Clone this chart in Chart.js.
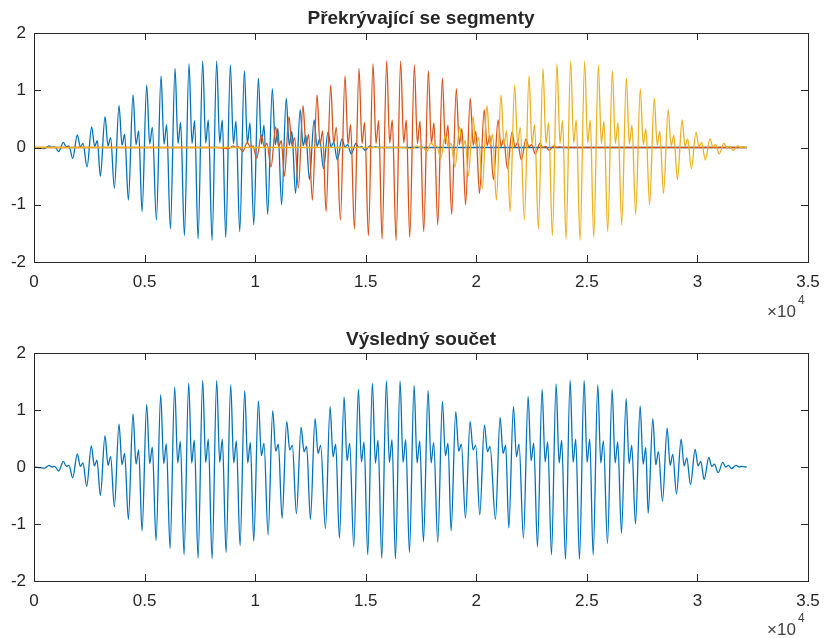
<!DOCTYPE html>
<html>
<head>
<meta charset="utf-8">
<script src="https://cdn.jsdelivr.net/npm/chart.js@4.4.1/dist/chart.umd.min.js"></script>
<style>
  body { margin: 0; background: #fff; width: 824px; height: 638px; position: relative; overflow: hidden;
         font-family: "Liberation Sans", Arial, Helvetica, sans-serif; color: #262626; }
  canvas { position: absolute; left: 0; }
  #topChart { top: 0; }
  #sumChart { top: 320px; }
  .title { position: absolute; left: 34px; width: 774px; text-align: center; font-weight: bold;
           font-size: 19px; line-height: 22px; white-space: nowrap; }
  .expo { position: absolute; font-size: 17px; line-height: 17px; white-space: nowrap; color: #404040; }
  .expo.sup { font-size: 12px; line-height: 12px; }
</style>
</head>
<body>
<canvas id="topChart" width="824" height="320"></canvas>
<canvas id="sumChart" width="824" height="318"></canvas>
<div class="title" style="top:7px">Překrývající se segmenty</div>
<div class="title" style="top:328px">Výsledný součet</div>
<div class="expo" style="left:767px;top:303px">×10</div>
<div class="expo sup" style="left:798px;top:294px">4</div>
<div class="expo" style="left:767px;top:621px">×10</div>
<div class="expo sup" style="left:798px;top:612px">4</div>
<script>
// axis ticks (x in units of 10^4 samples)
const xTicks = [0, 0.5, 1, 1.5, 2, 2.5, 3, 3.5];
const yTicks = [-2, -1, 0, 1, 2];
const signalEnd = 32230;

// the three segments are copies of one windowed block, started at these samples
const segmentStart = [0, 8320, 16640];
const segmentLength = 15590;
const segmentColors = ["#0072BD", "#D95319", "#EDB120"];

// where the trough / dip / shoulder sit relative to each tall peak (samples)
const troughLead = 210;
const dipLag = 135;
const shoulderLag = 255;

// one segment: per oscillation cycle
const segPeakX = [680, 1327, 1960, 2608, 3211, 3844, 4478, 5096, 5744, 6377, 7010, 7628,
  8261, 8880, 9513, 10146, 10776, 11406, 12036, 12666, 13296, 13926, 14556, 15186];
const segPeak = [0.03, 0.09, 0.22, 0.36, 0.54, 0.73, 0.92, 1.09, 1.25, 1.38, 1.46, 1.51,
  1.51, 1.44, 1.34, 1.21, 1.03, 0.86, 0.66, 0.48, 0.27, 0.15, 0.07, 0.03];
const segTrough = [-0.02, -0.07, -0.19, -0.34, -0.50, -0.71, -0.92, -1.12, -1.27, -1.42, -1.54, -1.60,
  -1.62, -1.57, -1.47, -1.35, -1.17, -1.00, -0.80, -0.56, -0.37, -0.22, -0.11, -0.05];
const segDip = [0, 0.01, 0.01, 0.02, 0.03, 0.04, 0.05, 0.06, 0.06, 0.07, 0.07, 0.08,
  0.08, 0.07, 0.07, 0.06, 0.05, 0.04, 0.03, 0.02, 0.01, 0.01, 0, 0];
const segShoulder = [0.01, 0.03, 0.07, 0.12, 0.17, 0.23, 0.29, 0.35, 0.40, 0.44, 0.47, 0.48,
  0.48, 0.46, 0.43, 0.39, 0.33, 0.28, 0.21, 0.15, 0.09, 0.05, 0.02, 0.01];

// resulting sum (bottom plot): per oscillation cycle
const sumPeakX = [680, 1327, 1960, 2593, 3211, 3844, 4478, 5096, 5729, 6362, 6995, 7628, 8262,
  8895, 9528, 10146, 10795, 11428, 12076, 12709, 13388, 14021, 14669, 15302, 15935, 16554,
  17187, 17820, 18468, 19071, 19720, 20368, 21076, 21680, 22343, 22976, 23609, 24243, 24876,
  25494, 26142, 26775, 27409, 27982, 28630, 29263, 29896, 30514, 31147, 31750];
const sumPeak = [0.03, 0.10, 0.23, 0.37, 0.55, 0.75, 0.93, 1.10, 1.27, 1.40, 1.47, 1.52, 1.52,
  1.44, 1.34, 1.16, 0.99, 0.80, 0.70, 0.85, 1.06, 1.23, 1.36, 1.47, 1.51, 1.51,
  1.43, 1.34, 1.15, 0.97, 0.80, 0.74, 0.87, 1.06, 1.24, 1.36, 1.46, 1.52, 1.52,
  1.44, 1.36, 1.20, 1.07, 0.85, 0.68, 0.49, 0.31, 0.17, 0.08, 0.03];
const sumTrough = [-0.02, -0.07, -0.19, -0.34, -0.50, -0.70, -0.92, -1.12, -1.29, -1.43, -1.54, -1.60, -1.61,
  -1.50, -1.38, -1.30, -1.19, -0.90, -0.82, -0.92, -1.08, -1.25, -1.40, -1.54, -1.60, -1.61,
  -1.50, -1.31, -1.32, -1.12, -0.90, -0.84, -0.92, -1.07, -1.25, -1.40, -1.54, -1.62, -1.62,
  -1.54, -1.34, -1.16, -1.00, -0.81, -0.60, -0.47, -0.31, -0.22, -0.10, -0.03];
const sumDip = [0, 0.01, 0.01, 0.02, 0.03, 0.04, 0.05, 0.06, 0.06, 0.07, 0.07, 0.08, 0.08,
  0.07, 0.07, 0.20, 0.28, 0.30, 0.27, 0.24, 0.18, 0.11, 0.09, 0.07, 0.08, 0.08,
  0.07, 0.07, 0.20, 0.28, 0.30, 0.27, 0.24, 0.18, 0.11, 0.09, 0.07, 0.08, 0.08,
  0.07, 0.07, 0.06, 0.05, 0.04, 0.03, 0.02, 0.02, 0.01, 0, 0];
const sumShoulder = [0.01, 0.03, 0.07, 0.12, 0.18, 0.24, 0.30, 0.35, 0.41, 0.45, 0.47, 0.49, 0.49,
  0.46, 0.43, 0.42, 0.40, 0.38, 0.36, 0.38, 0.40, 0.42, 0.44, 0.47, 0.48, 0.48,
  0.46, 0.43, 0.42, 0.40, 0.38, 0.36, 0.38, 0.40, 0.42, 0.44, 0.47, 0.49, 0.49,
  0.46, 0.44, 0.38, 0.34, 0.27, 0.22, 0.16, 0.10, 0.05, 0.03, 0.01];

function cyclePoints(start, peakX, peak, trough, dip, shoulder) {
  const pts = [];
  peakX.forEach((px, i) => {
    pts.push({ x: start + px - troughLead, y: trough[i] });
    pts.push({ x: start + px, y: peak[i] });
    pts.push({ x: start + px + dipLag, y: dip[i] });
    pts.push({ x: start + px + shoulderLag, y: shoulder[i] });
  });
  return pts;
}

function segmentPoints(start) {
  const pts = [{ x: 0, y: 0 }];
  if (start > 0) pts.push({ x: start, y: 0 });
  pts.push(...cyclePoints(start, segPeakX, segPeak, segTrough, segDip, segShoulder));
  pts.push({ x: start + segmentLength, y: 0 });
  if (start + segmentLength < signalEnd) pts.push({ x: signalEnd, y: 0 });
  return pts;
}

function sumPoints() {
  return [{ x: 0, y: 0 },
    ...cyclePoints(0, sumPeakX, sumPeak, sumTrough, sumDip, sumShoulder),
    { x: signalEnd, y: 0 }];
}

Chart.defaults.font.family = '"Liberation Sans", Arial, Helvetica, sans-serif';
Chart.defaults.color = "#262626";

// MATLAB style box with inward ticks on all four sides
const boxPlugin = {
  id: "box",
  afterDraw(chart) {
    const { ctx, chartArea: a, scales } = chart;
    const tick = 7;
    ctx.save();
    ctx.strokeStyle = "#262626";
    ctx.lineWidth = 1;
    ctx.beginPath();
    xTicks.forEach((t) => {
      const px = Math.round(scales.x.getPixelForValue(t * 1e4)) + 0.5;
      ctx.moveTo(px, a.bottom); ctx.lineTo(px, a.bottom - tick);
      ctx.moveTo(px, a.top); ctx.lineTo(px, a.top + tick);
    });
    yTicks.forEach((t) => {
      const py = Math.round(scales.y.getPixelForValue(t)) + 0.5;
      ctx.moveTo(a.left, py); ctx.lineTo(a.left + tick, py);
      ctx.moveTo(a.right, py); ctx.lineTo(a.right - tick, py);
    });
    ctx.stroke();
    ctx.strokeRect(Math.round(a.left) + 0.5, Math.round(a.top) + 0.5,
      Math.round(a.right - a.left), Math.round(a.bottom - a.top));
    ctx.restore();
  },
};

function lineDataset(data, color, order) {
  return {
    data, order,
    borderColor: color,
    borderWidth: 1.3,
    pointRadius: 0,
    cubicInterpolationMode: "monotone",
    fill: false,
  };
}

function makeChart(id, datasets, xAxisHeight) {
  return new Chart(document.getElementById(id), {
    type: "line",
    data: { datasets },
    plugins: [boxPlugin],
    options: {
      responsive: false,
      animation: false,
      events: [],
      parsing: false,
      layout: { padding: { top: 33, right: 16, left: 0, bottom: 0 } },
      plugins: { legend: { display: false }, tooltip: { enabled: false }, title: { display: false } },
      scales: {
        x: {
          type: "linear", min: 0, max: 35000,
          grid: { display: false, drawTicks: false },
          border: { display: false },
          afterBuildTicks: (s) => { s.ticks = xTicks.map((v) => ({ value: v * 1e4 })); },
          // fixed axis band; the plot box is set by the layout padding only
          afterFit: (s) => { s.height = xAxisHeight; s.paddingLeft = 0; s.paddingRight = 0; },
          ticks: { callback: (v) => String(v / 1e4), font: { size: 17 }, padding: 10, maxRotation: 0, autoSkip: false },
        },
        y: {
          type: "linear", min: -2, max: 2,
          grid: { display: false, drawTicks: false },
          border: { display: false },
          afterBuildTicks: (s) => { s.ticks = yTicks.map((v) => ({ value: v })); },
          afterFit: (s) => { s.width = 34; s.paddingTop = 0; s.paddingBottom = 0; },
          ticks: { font: { size: 17 }, padding: 8 },
        },
      },
    },
  });
}

makeChart("topChart", segmentStart.map((start, i) =>
  lineDataset(segmentPoints(start), segmentColors[i], 3 - i)), 58);

makeChart("sumChart", [lineDataset(sumPoints(), segmentColors[0], 1)], 57);
</script>
</body>
</html>
